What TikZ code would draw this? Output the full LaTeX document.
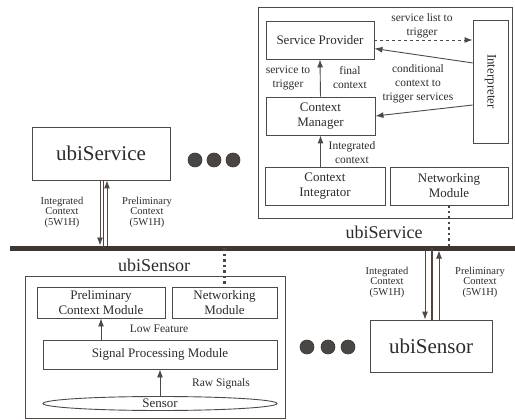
\documentclass[tikz,border=0pt]{standalone}
\usepackage{fontspec}
\setmainfont{Liberation Serif}
\usetikzlibrary{arrows.meta,shapes.geometric,calc}
\definecolor{linec}{HTML}{4F4946}
\definecolor{txt}{HTML}{2E2A28}
\definecolor{busc}{HTML}{3D3733}
\definecolor{midc}{HTML}{5A4036}
\definecolor{dotc}{HTML}{4A4644}
\begin{document}
\begin{tikzpicture}[x=1pt,y=-1pt,
  outerbox/.style={draw=linec,line width=0.9pt,inner sep=0pt},
  box/.style={draw=linec,line width=0.9pt,inner sep=1pt,align=center,text=txt,
    font=\fontsize{13}{15}\selectfont},
  lbl/.style={align=center,text=txt,inner sep=0pt,font=\fontsize{11.5}{14}\selectfont},
  buslbl/.style={align=center,text=txt,inner sep=0pt,font=\fontsize{10.5}{10.5}\selectfont},
  bigtxt/.style={text=txt,inner sep=0pt,font=\fontsize{18}{18}\selectfont},
  arr/.style={draw=linec,line width=0.9pt,-{Latex[length=8pt,width=6pt]}},
  midline/.style={draw=midc,line width=1.6pt},
  dotline/.style={draw=dotc,line width=2.3pt,dash pattern=on 2.5pt off 3pt},
  blob/.style={circle,fill=dotc,draw=busc,line width=0.6pt,minimum size=14pt,inner sep=0pt}
]
\useasboundingbox (0,0) rectangle (515,420);

% ---------- top ubiService ----------
\node[outerbox,minimum width=254pt,minimum height=211pt] (topbox) at (385,112.5) {};
\node[box,minimum width=108pt,minimum height=38pt] (sp) at (320,40) {Service Provider};
\node[box,minimum width=35pt,minimum height=123pt] (interp) at (490.5,81.5) {};
\node[text=txt,rotate=-90,font=\fontsize{13}{15}\selectfont] (interpt) at (interp) {Interpreter};
\node[box,minimum width=109pt,minimum height=38pt] (cm) at (320.5,116) {Context\\Manager};
\node[box,minimum width=120pt,minimum height=38pt] (ci) at (325,186) {Context\\Integrator};
\node[box,minimum width=118pt,minimum height=38pt] (nm1) at (449,186) {Networking\\Module};

\draw[arr,dashed] (sp.east) -- (sp.east -| interp.west);
\draw[arr] ($(interp.north west)!0.35!(interp.south west)$) -- ($(sp.north east)!0.72!(sp.south east)$);
\draw[arr] ($(interp.north west)!0.69!(interp.south west)$) -- (cm.east);
\draw[arr] (cm.north) -- (sp.south);
\draw[arr] (ci.north -| cm.south) -- (cm.south);

\node[lbl] (l1) at (422,26) {service list to\\trigger};
\node[lbl] (l2) at (418,84) {conditional\\context to\\trigger services};
\node[lbl] (l3) at (288,78) {service to\\trigger};
\node[lbl] (l4) at (350,78) {final\\context};
\node[lbl] (l5) at (352,153) {Integrated\\context};
\node[bigtxt] (svclbl) at (384,232) {ubiService};

% ---------- bus ----------
\coordinate (busL) at (10,248);
\coordinate (busR) at (515,248);
\draw[draw=busc,line width=5pt] (busL) -- (busR);
\node[bigtxt] (senslbl) at (154,265) {ubiSensor};

\draw[dotline] (nm1.south) -- (nm1.south |- busL);

% ---------- left ubiService ----------
\node[box,minimum width=138pt,minimum height=53pt,font=\fontsize{21}{21}\selectfont] (svcL) at (101,153.5) {ubiService};
\node[blob] (d1) at (195,160) {};
\node[blob] (d2) at (214,160) {};
\node[blob] (d3) at (233,160) {};
\draw[midline] ([xshift=2.5pt]svcL.south) -- ([xshift=2.5pt]svcL.south |- busL);
\draw[arr,shorten >=2.5pt] ([xshift=-1pt]svcL.south) -- ([xshift=-1pt]svcL.south |- busL);
\draw[arr,shorten <=2.5pt] ([xshift=6pt]svcL.south |- busL) -- ([xshift=6pt]svcL.south);
\node[buslbl] (l6) at (62,212) {Integrated\\Context\\(5W1H)};
\node[buslbl] (l7) at (147,212) {Preliminary\\Context\\(5W1H)};

% ---------- left ubiSensor ----------
\node[outerbox,minimum width=260pt,minimum height=142pt] (sensbox) at (155,347) {};
\node[box,minimum width=128pt,minimum height=31pt] (pcm) at (101,302.5) {Preliminary\\Context Module};
\node[box,minimum width=105pt,minimum height=31pt] (nm2) at (224.5,302.5) {Networking\\Module};
\node[box,minimum width=234pt,minimum height=29pt] (spm) at (160,354.5) {Signal Processing Module};
\node[draw=linec,line width=0.9pt,ellipse,minimum width=234pt,minimum height=14pt,inner sep=0pt] (sensor) at (160,403.5) {};
\node[text=txt,inner sep=0pt,font=\fontsize{13}{15}\selectfont] (sensort) at (sensor) {Sensor};
\draw[arr] (spm.north -| pcm.south) -- (pcm.south);
\draw[arr] (sensor.north) -- (sensor.north |- spm.south);
\node[lbl] (l8) at (159,329) {Low Feature};
\node[lbl] (l9) at (221,384) {Raw Signals};
\draw[dotline] (busL -| nm2.north) -- (nm2.north);

% ---------- right ubiSensor ----------
\node[box,minimum width=122pt,minimum height=52pt,font=\fontsize{21}{21}\selectfont] (rsens) at (431,346) {ubiSensor};
\node[blob] (d4) at (307,347) {};
\node[blob] (d5) at (328,347) {};
\node[blob] (d6) at (348,347) {};
\draw[midline] ([xshift=1pt]rsens.north |- busL) -- ([xshift=1pt]rsens.north);
\draw[arr,shorten <=2.5pt] ([xshift=-6pt]rsens.north |- busL) -- ([xshift=-6pt]rsens.north);
\draw[arr,shorten >=2.5pt] ([xshift=8pt]rsens.north) -- ([xshift=8pt]rsens.north |- busL);
\node[buslbl] (l10) at (387,282) {Integrated\\Context\\(5W1H)};
\node[buslbl] (l11) at (480,282) {Preliminary\\Context\\(5W1H)};
\end{tikzpicture}
\end{document}
